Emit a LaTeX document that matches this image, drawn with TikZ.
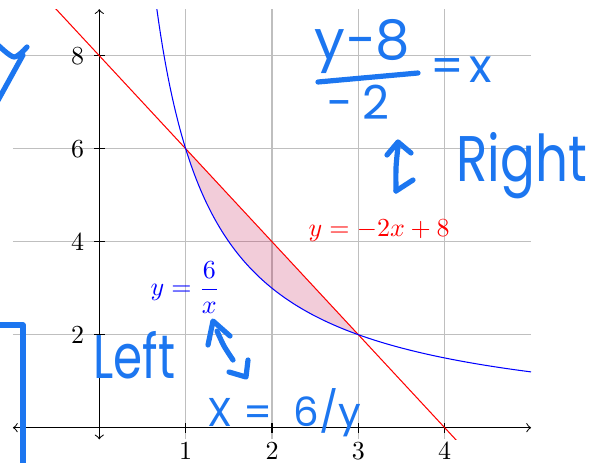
\documentclass[tikz,border=0pt]{standalone}
\usepackage{fontspec}
\newfontfamily\hand{Poppins}
\definecolor{hw}{RGB}{28,118,240}
\begin{document}
\begin{tikzpicture}[x=0.38462pt, y=-0.38462pt,
  hwline/.style={draw=hw, line width=2pt, line cap=round, line join=round},
  hwtext/.style={text=hw, inner sep=0, anchor=base west},
  gridline/.style={draw=black!25, line width=0.4pt},
  axisline/.style={draw=black, line width=0.4pt, <->},
  ticklabel/.style={inner sep=0, font=\fontsize{10}{12}\selectfont}
]
\useasboundingbox (0,0) rectangle (595,463);
\begin{scope}[shift={(99.3,427.7)}, x=33.211pt, y=17.885pt]
  % grid
  \foreach \i in {1,2,3,4} \draw[gridline] (\i,-0.25) -- (\i,9);
  \foreach \j in {0,2,4,6,8} \draw[gridline] (-1,\j) -- (5,\j);
  % shaded region
  \fill[purple, fill opacity=0.2] (1,6) -- (3,2) -- plot[domain=3:1, samples=80] (\x,{6/\x}) -- cycle;
  % axes
  \draw[axisline] (-1,0) -- (5,0);
  \draw[axisline] (0,-0.25) -- (0,9);
  % ticks and labels
  \foreach \i in {1,2,3,4} {
    \draw[line width=0.4pt] (\i,0) ++(0,-2pt) -- ++(0,4pt);
    \node[ticklabel] (xl\i) at (\i,-0.5) {$\i$};
  }
  \foreach \j in {2,4,6,8} {
    \draw[line width=0.4pt] (0,\j) ++(-2pt,0) -- ++(4pt,0);
    \node[ticklabel] (yl\j) at (-0.252,\j) {$\j$};
  }
  % curves
  \begin{scope}
    \clip (-1,-0.25) rectangle (5,9);
    \draw[red, line width=0.4pt] plot[domain=-1:5, samples=2] (\x,{-2*\x+8});
    \draw[blue, line width=0.4pt] plot[domain=0.6:5, samples=200] (\x,{6/\x});
  \end{scope}
  \node[red, inner sep=0, anchor=base west] (lred) at (2.417,4.108) {$y=-2x+8$};
  \node[blue, inner sep=0, anchor=base west] (lblue) at (0.587,2.836) {$y=\displaystyle\frac{6}{x}$};
\end{scope}
% handwritten annotations
\draw[hwline] plot[smooth] coordinates {(-2,45) (14,57) (27,47)};
\draw[hwline] (-4,104) -- (23,55);
\draw[hwline] (-5,325) -- (23,325) -- (23,470);
\draw[hwline] (208,345) -- (213,321) -- (230,336);
\draw[hwline] plot[smooth] coordinates {(217,331) (224,346) (233,360)};
\draw[hwline] (229,372) -- (246,377) -- (248,360);
\draw[hwline] (387,155) -- (398,142) -- (411,153);
\draw[hwline] plot[smooth] coordinates {(398,146) (396,168) (396,191)};
\draw[hwline] (396,191) -- (413,180);
\draw[hwline] (318,82) -- (418,73);
\node[hwtext, font=\hand\fontsize{21}{21}\selectfont] (numer) at (314,60) {y−8};
\node[hwtext, font=\hand\fontsize{18}{18}\selectfont] (denom) at (326,120) {−\hspace{4pt}2};
\node[hwtext, font=\hand\fontsize{18}{18}\selectfont] (eqx) at (430,83) {=\hspace{2pt}x};
\node[hwtext, font=\hand\fontsize{24.8}{25}\selectfont] (right) at (456,182) {\scalebox{0.8}[1]{Right}};
\node[hwtext, font=\hand\fontsize{23.7}{24}\selectfont] (left) at (93,378) {\scalebox{0.76}[1]{Left}};
\node[hwtext, font=\hand\fontsize{15.5}{16}\selectfont] (xeq) at (207,426) {X = \hspace{4pt}6/y};
\end{tikzpicture}
\end{document}
